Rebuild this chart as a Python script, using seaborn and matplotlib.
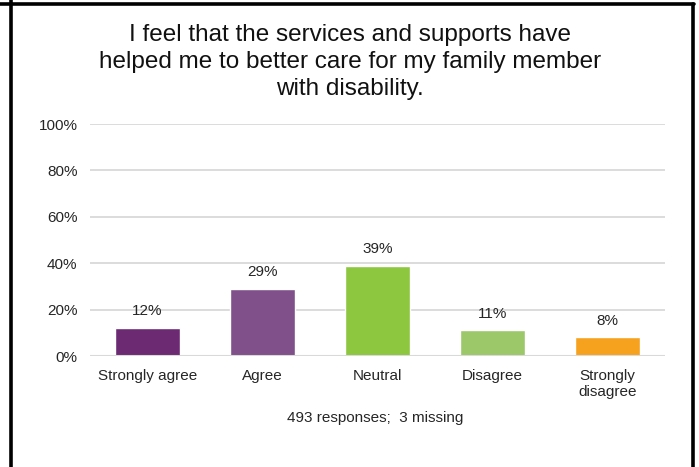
import matplotlib
matplotlib.use("Agg")
import matplotlib.pyplot as plt
from matplotlib.lines import Line2D
import seaborn as sns
import pandas as pd

categories = ["Strongly agree", "Agree", "Neutral", "Disagree", "Strongly\ndisagree"]
values = [12, 29, 39, 11, 8]
colors = ["#6C2A73", "#7F508A", "#8DC63F", "#9DC869", "#F7A21E"]
yticks = [0, 20, 40, 60, 80, 100]
title = "I feel that the services and supports have\nhelped me to better care for my family member\nwith disability."
footnote = "493 responses;  3 missing"

sns.set_theme(style="white")
plt.rcParams["font.family"] = ["Liberation Sans", "DejaVu Sans"]

W, H = 699, 467
fig = plt.figure(figsize=(W / 100, H / 100), dpi=100)
fig.patch.set_facecolor("white")
ax = fig.add_axes([90 / W, (H - 356) / H, (665 - 90) / W, (356 - 124) / H])

df = pd.DataFrame({"cat": categories, "val": values})
sns.barplot(data=df, x="cat", y="val", hue="cat", palette=colors, legend=False,
            width=0.57, saturation=1, ax=ax, zorder=3)

ax.set_ylim(0, 100)
ax.set_xlim(-0.5, len(categories) - 0.5)
ax.set_yticks(yticks)
ax.set_yticklabels([f"{t}%" for t in yticks])
ax.yaxis.grid(True, color="#D9D9D9", linewidth=1.3, zorder=0)
ax.set_axisbelow(True)
for s in ax.spines.values():
    s.set_visible(False)
ax.axhline(0, color="#D9D9D9", linewidth=1.5, zorder=4)
ax.set_xlabel("")
ax.set_ylabel("")
ax.tick_params(axis="y", length=0, pad=9, labelsize=11, labelcolor="#262626")
ax.tick_params(axis="x", length=0, pad=9.5, labelsize=11, labelcolor="#262626")

for i, v in enumerate(values):
    ax.annotate(f"{v}%", (i, v), xytext=(0, 7), textcoords="offset points",
                ha="center", va="bottom", fontsize=11, color="#262626")

fig.text(350 / W, 1 - 62 / H, title, ha="center", va="center", fontsize=17.5,
         color="#111111", linespacing=1.27)
fig.text(375 / W, 1 - 418 / H, footnote, ha="center", va="center", fontsize=11,
         color="#262626")

lw = 2.6
fig.add_artist(Line2D([0, 693.5 / W], [1 - 3.5 / H, 1 - 3.5 / H], color="black", linewidth=lw,
                      transform=fig.transFigure))
fig.add_artist(Line2D([11 / W, 11 / W], [0, 1], color="black", linewidth=lw,
                      transform=fig.transFigure))
fig.add_artist(Line2D([692.5 / W, 692.5 / W], [0, 1 - 3.5 / H], color="black", linewidth=lw,
                      transform=fig.transFigure))

fig.savefig("out.png", dpi=100, facecolor="white")
